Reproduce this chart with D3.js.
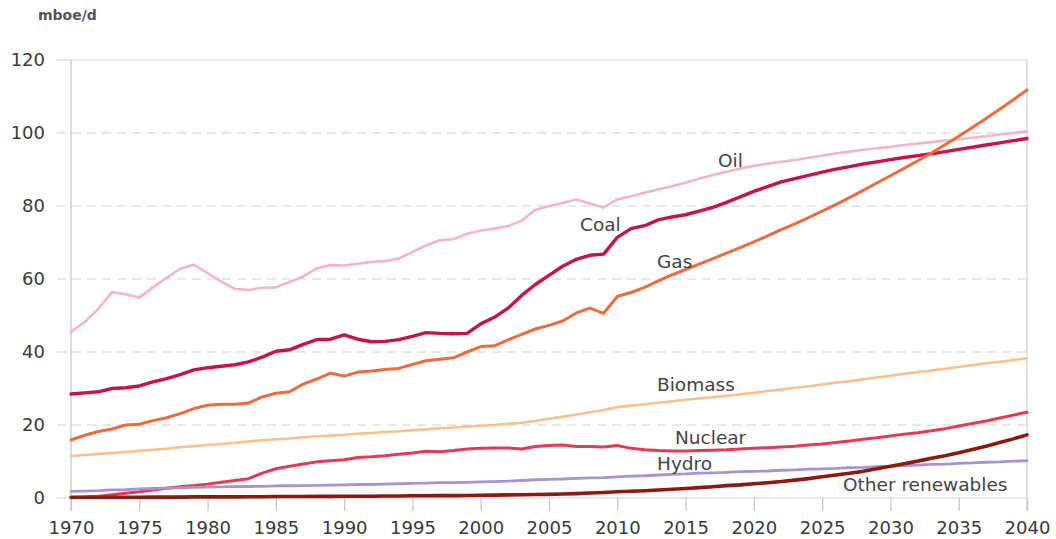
<!DOCTYPE html>
<html>
<head>
<meta charset="utf-8">
<script src="https://cdn.jsdelivr.net/npm/d3@7"></script>
<style>
  body { margin: 0; background: #fff; }
  svg text { font-family: "DejaVu Sans", sans-serif; }
</style>
</head>
<body>
<svg width="1056" height="539"></svg>
<script>
// years 1970..2040
var years = d3.range(1970, 2041);
var xTicks = d3.range(1970, 2041, 5);
var yTicks = [0, 20, 40, 60, 80, 100, 120];

var oil = [45.5, 48.2, 51.8, 56.4, 55.8, 54.9, 57.7, 60.3, 62.8, 63.9,
  61.6, 59.3, 57.3, 57.0, 57.6, 57.7, 59.2, 60.7, 62.9, 63.8,
  63.7, 64.2, 64.7, 64.9, 65.6, 67.4, 69.2, 70.6, 70.9, 72.4,
  73.3, 73.8, 74.5, 76.0, 78.9, 80.0, 80.8, 81.8, 80.7, 79.6,
  81.8, 82.7, 83.6, 84.5, 85.4, 86.4, 87.5, 88.5, 89.4, 90.3,
  91.0, 91.6, 92.1, 92.6, 93.2, 93.8, 94.4, 94.9, 95.4, 95.8,
  96.2, 96.7, 97.1, 97.5, 97.9, 98.3, 98.7, 99.1, 99.6, 100.0,
  100.5];
var coal = [28.5, 28.8, 29.1, 30.0, 30.2, 30.7, 31.8, 32.7, 33.8, 35.1,
  35.7, 36.1, 36.5, 37.3, 38.6, 40.2, 40.6, 42.1, 43.4, 43.5,
  44.7, 43.5, 42.8, 42.9, 43.4, 44.3, 45.3, 45.1, 45.0, 45.1,
  47.7, 49.5, 52.0, 55.5, 58.5, 61.0, 63.5, 65.4, 66.5, 66.8,
  71.4, 73.8, 74.6, 76.2, 77.0, 77.6, 78.6, 79.6, 81.0, 82.5,
  84.0, 85.3, 86.6, 87.5, 88.4, 89.3, 90.1, 90.8, 91.5, 92.1,
  92.7, 93.3, 93.8, 94.3, 94.9, 95.5, 96.1, 96.7, 97.3, 97.9,
  98.5];
var gas = [15.9, 17.2, 18.2, 18.9, 20.0, 20.2, 21.2, 22.0, 23.1, 24.5,
  25.4, 25.7, 25.7, 26.0, 27.7, 28.7, 29.1, 31.2, 32.6, 34.2,
  33.4, 34.5, 34.8, 35.2, 35.5, 36.6, 37.6, 38.0, 38.4, 40.0,
  41.5, 41.7, 43.3, 44.8, 46.3, 47.3, 48.5, 50.7, 52.0, 50.6,
  55.2, 56.3, 57.7, 59.5, 61.1, 62.6, 64.1, 65.6, 67.1, 68.6,
  70.2, 71.8, 73.5, 75.1, 76.8, 78.6, 80.4, 82.3, 84.3, 86.3,
  88.3, 90.3, 92.4, 94.5, 96.8, 99.1, 101.5, 104.0, 106.5, 109.1,
  111.8];
var biomass = [11.5, 11.8, 12.1, 12.3, 12.6, 12.9, 13.2, 13.5, 13.9, 14.2,
  14.5, 14.8, 15.1, 15.5, 15.8, 16.1, 16.3, 16.6, 16.9, 17.1,
  17.3, 17.6, 17.8, 18.1, 18.3, 18.6, 18.8, 19.1, 19.3, 19.6,
  19.8, 20.0, 20.3, 20.6, 21.1, 21.7, 22.3, 22.9, 23.5, 24.1,
  24.9, 25.3, 25.7, 26.1, 26.5, 26.9, 27.3, 27.6, 28.0, 28.4,
  28.8, 29.3, 29.7, 30.2, 30.6, 31.1, 31.6, 32.0, 32.5, 33.0,
  33.5, 34.0, 34.5, 34.9, 35.4, 35.9, 36.4, 36.9, 37.3, 37.8,
  38.3];
var nuclear = [0.1, 0.3, 0.5, 0.9, 1.3, 1.7, 2.2, 2.7, 3.1, 3.4,
  3.8, 4.3, 4.8, 5.3, 6.8, 8.0, 8.7, 9.3, 9.9, 10.2,
  10.5, 11.1, 11.3, 11.6, 12.0, 12.3, 12.8, 12.7, 13.0, 13.4,
  13.6, 13.7, 13.7, 13.4, 14.1, 14.4, 14.5, 14.1, 14.1, 14.0,
  14.4, 13.6, 13.2, 13.0, 12.9, 12.9, 13.0, 13.1, 13.2, 13.4,
  13.6, 13.8, 14.0, 14.2, 14.5, 14.8, 15.2, 15.6, 16.1, 16.5,
  17.0, 17.5, 17.9, 18.4, 19.0, 19.7, 20.4, 21.1, 21.9, 22.7,
  23.5];
var hydro = [1.8, 1.9, 2.0, 2.2, 2.3, 2.5, 2.6, 2.7, 2.8, 2.9,
  3.0, 3.05, 3.1, 3.15, 3.2, 3.3, 3.35, 3.4, 3.45, 3.5,
  3.6, 3.7, 3.7, 3.8, 3.9, 4.0, 4.1, 4.2, 4.2, 4.3,
  4.4, 4.5, 4.6, 4.8, 5.0, 5.1, 5.2, 5.4, 5.5, 5.6,
  5.8, 6.0, 6.1, 6.3, 6.5, 6.6, 6.8, 6.9, 7.0, 7.2,
  7.3, 7.4, 7.6, 7.7, 7.9, 8.0, 8.1, 8.3, 8.4, 8.6,
  8.7, 8.9, 9.0, 9.2, 9.3, 9.5, 9.6, 9.8, 9.9, 10.1,
  10.2];
var otherRenewables = [0.2, 0.2, 0.2, 0.2, 0.2, 0.2, 0.25, 0.25, 0.25, 0.3,
  0.3, 0.3, 0.3, 0.35, 0.35, 0.4, 0.4, 0.4, 0.45, 0.45,
  0.5, 0.5, 0.5, 0.55, 0.55, 0.6, 0.6, 0.65, 0.65, 0.7,
  0.75, 0.8, 0.85, 0.9, 0.95, 1.0, 1.1, 1.2, 1.35, 1.5,
  1.7, 1.85, 2.0, 2.2, 2.4, 2.6, 2.85, 3.1, 3.4, 3.6,
  3.9, 4.2, 4.5, 4.9, 5.3, 5.8, 6.3, 6.8, 7.3, 8.0,
  8.7, 9.4, 10.1, 10.9, 11.6, 12.4, 13.3, 14.2, 15.2, 16.2,
  17.3];

var svg = d3.select("svg");

var x = d3.scaleLinear().domain([1970, 2040]).range([71, 1027]);
var y = d3.scaleLinear().domain([0, 120]).range([498, 60]);

// grid
svg.append("g").selectAll("line")
  .data(yTicks)
  .enter().append("line")
    .attr("x1", 57).attr("x2", x(2040))
    .attr("y1", function(d) { return y(d); })
    .attr("y2", function(d) { return y(d); })
    .attr("stroke", "#d2d2d2")
    .attr("stroke-width", 1.2)
    .attr("stroke-dasharray", function(d) { return (d == 0 || d == 120) ? null : "9,6"; });

// left + right frame lines
svg.append("line").attr("x1", x(1970)).attr("x2", x(1970)).attr("y1", y(120)).attr("y2", 511)
  .attr("stroke", "#c8c8c8").attr("stroke-width", 1.3);
svg.append("line").attr("x1", x(2040)).attr("x2", x(2040)).attr("y1", y(120)).attr("y2", 511)
  .attr("stroke", "#d2d2d2").attr("stroke-width", 1.3);

// axes
var xAxis = svg.append("g")
  .attr("transform", "translate(0," + y(0) + ")")
  .call(d3.axisBottom(x).tickValues(xTicks).tickFormat(d3.format("d")).tickSize(13).tickPadding(10));
xAxis.select(".domain").remove();
xAxis.selectAll("line").attr("stroke", "#c8c8c8").attr("stroke-width", 1.3);
xAxis.selectAll("text").attr("fill", "#3a3a3a").style("font-size", "18px");

var yAxis = svg.append("g")
  .attr("transform", "translate(" + x(1970) + ",0)")
  .call(d3.axisLeft(y).tickValues(yTicks).tickSize(0).tickPadding(26));
yAxis.select(".domain").remove();
yAxis.selectAll("text").attr("fill", "#3a3a3a").style("font-size", "18px");

svg.append("text")
  .attr("x", 38).attr("y", 20)
  .attr("fill", "#555")
  .style("font-size", "14px")
  .style("font-weight", "600")
  .text("mboe/d");

// lines
var series = [
  { name: "Oil", values: oil, color: "#f2b6c8", width: 2.6 },
  { name: "Coal", values: coal, color: "#c8134a", width: 3.4 },
  { name: "Gas", values: gas, color: "#ef6a3d", width: 3 },
  { name: "Biomass", values: biomass, color: "#fbc08e", width: 2.6 },
  { name: "Nuclear", values: nuclear, color: "#e83853", width: 3 },
  { name: "Hydro", values: hydro, color: "#a892d2", width: 2.8 },
  { name: "Other renewables", values: otherRenewables, color: "#8c1a10", width: 3.6 }
];

var line = d3.line()
  .x(function(d, i) { return x(years[i]); })
  .y(function(d) { return y(d); });

svg.append("g").selectAll("path")
  .data(series)
  .enter().append("path")
    .attr("d", function(s) { return line(s.values); })
    .attr("fill", "none")
    .attr("stroke", function(s) { return s.color; })
    .attr("stroke-width", function(s) { return s.width; })
    .attr("stroke-linejoin", "round")
    .attr("stroke-linecap", "round");

// series labels
var labels = [
  ["Oil", 718, 167], ["Coal", 580, 231], ["Gas", 657, 268],
  ["Biomass", 657, 391], ["Nuclear", 675, 444], ["Hydro", 657, 470],
  ["Other renewables", 843, 491]
];
svg.append("g").selectAll("text")
  .data(labels)
  .enter().append("text")
    .attr("x", function(d) { return d[1]; })
    .attr("y", function(d) { return d[2]; })
    .attr("fill", "#444")
    .style("font-size", "18.5px")
    .text(function(d) { return d[0]; });
</script>
</body>
</html>
